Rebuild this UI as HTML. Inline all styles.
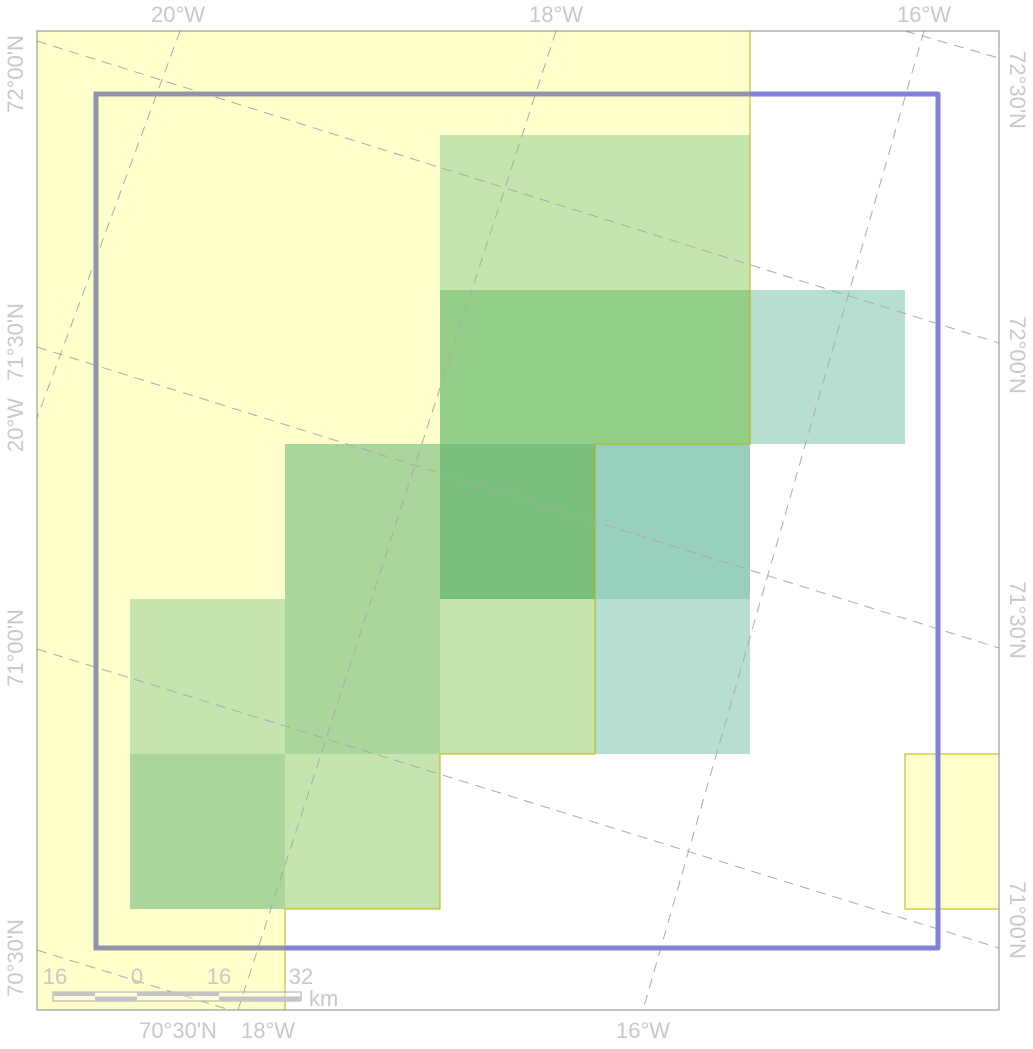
<!DOCTYPE html>
<html><head><meta charset="utf-8"><style>
html,body{margin:0;padding:0;background:#fff;}
svg text{font-family:"Liberation Sans",sans-serif;fill:#c8c8c8;font-size:22px;}
</style></head><body>
<svg width="1033" height="1044" viewBox="0 0 1033 1044">
<defs><clipPath id="yclip"><polygon points="37,31 750,31 750,444 595,444 595,754 440,754 440,909 285,909 285,1010 37,1010"/></clipPath></defs>
<g id="base"></g>
<g id="cells"></g>
<g id="grat"></g>
<g id="frame"></g>
<g id="labels"></g>
<g id="scale">
 <rect x="53" y="992" width="248" height="9" fill="#fff" fill-opacity="0.3" stroke="#aaa" stroke-width="1"/>
 <rect x="53" y="992" width="42" height="4" fill="#c4c4c4"/><rect x="95" y="996.5" width="42" height="4.5" fill="#c4c4c4"/>
 <rect x="137" y="992" width="82" height="4" fill="#c4c4c4"/><rect x="219" y="996.5" width="82" height="4.5" fill="#c4c4c4"/>
 <text x="55" y="984" text-anchor="middle">16</text>
 <text x="137" y="984" text-anchor="middle">0</text>
 <text x="219" y="984" text-anchor="middle">16</text>
 <text x="301" y="984" text-anchor="middle">32</text>
 <text x="309" y="1006">km</text>
</g>
<rect x="37" y="31" width="962" height="979" fill="none" stroke="#888" stroke-width="1"/>
</svg>
<script>
const NS='http://www.w3.org/2000/svg';
const colEdges=[130,285,440,595,750,905,999];
const rowEdges=[135,290,444,599,754,909];
const cellCols=[2,3,2,3,4,1,2,3,0,1,2,3,0,1];
const cellRows=[0,0,1,1,1,2,2,2,3,3,3,3,4,4];
const cellColors=['#c6e4ae','#c6e4ae','#94cf89','#94cf89','#b6dfd2','#abd69b','#79c07c','#99cfbd','#c6e4ae','#abd69b','#c6e4ae','#b6dfd2','#abd69b','#c6e4ae'];
function mk(tag,attrs,parent){const e=document.createElementNS(NS,tag);for(const k in attrs)e.setAttribute(k,attrs[k]);parent.appendChild(e);return e;}
const base=document.getElementById('base');
let p=mk('polygon',{points:'37,31 750,31 750,444 595,444 595,754 440,754 440,909 285,909 285,1010 37,1010',fill:'#ffffcc',stroke:'#b5b500','stroke-width':1},base);


p=mk('rect',{x:905,y:754,width:94,height:155,fill:'#ffffcc',stroke:'#b5b500','stroke-width':1},base);


const cg=document.getElementById('cells');
for(let i=0;i<cellCols.length;i++){
  const c=cellCols[i],r=cellRows[i];
  const x0=colEdges[c],x1=colEdges[c+1],y0=rowEdges[r],y1=rowEdges[r+1];
  const e=mk('rect',{x:x0,y:y0,width:x1-x0,height:y1-y0,fill:cellColors[i]},cg);
  
  
}
mk('polyline',{points:'750,31 750,444 595,444 595,754 440,754 440,909 285,909 285,1010',fill:'none',stroke:'#b5b500','stroke-width':1},cg);
const gg=document.getElementById('grat');
const gratLines=[[37,41,999,343],[905,31,999,58],[37,347,999,648],[37,649,999,948],[37,950,230,1010],
 [180,31,37,418],[556,31,238,1010],[924,31,643,1010]];
gratLines.forEach(l=>{
  const e=mk('line',{x1:l[0],y1:l[1],x2:l[2],y2:l[3],stroke:'#aaa','stroke-width':1,'stroke-dasharray':'10,7'},gg);
  
  
});
const fg=document.getElementById('frame');
let f=mk('rect',{x:96,y:94,width:842,height:854,fill:'none',stroke:'#8282d8','stroke-width':5,'stroke-linejoin':'round'},fg);


mk('rect',{x:96,y:94,width:842,height:854,fill:'none',stroke:'#9494a9','stroke-width':5,'clip-path':'url(#yclip)'},fg);
const lg=document.getElementById('labels');
const topLabels=[[178,'20°W'],[556,'18°W'],[924,'16°W']];
topLabels.forEach(t=>{const e=mk('text',{x:t[0],y:22,'text-anchor':'middle'},lg);e.textContent=t[1];

});
const botLabels=[[178,'70°30\'N'],[268,'18°W'],[643,'16°W']];
botLabels.forEach(t=>{const e=mk('text',{x:t[0],y:1038,'text-anchor':'middle'},lg);e.textContent=t[1];

});
const leftLabels=[[74,'72°00\'N'],[342,'71°30\'N'],[425,'20°W'],[648,'71°00\'N'],[958,'70°30\'N']];
leftLabels.forEach(t=>{const e=mk('text',{x:0,y:0,'text-anchor':'middle',transform:`translate(23,${t[0]}) rotate(-90)`},lg);e.textContent=t[1];

});
const rightLabels=[[90,'72°30\'N'],[355,'72°00\'N'],[620,'71°30\'N'],[920,'71°00\'N']];
rightLabels.forEach(t=>{const e=mk('text',{x:0,y:0,'text-anchor':'middle',transform:`translate(1010,${t[0]}) rotate(90)`},lg);e.textContent=t[1];

});
</script>
</body></html>
